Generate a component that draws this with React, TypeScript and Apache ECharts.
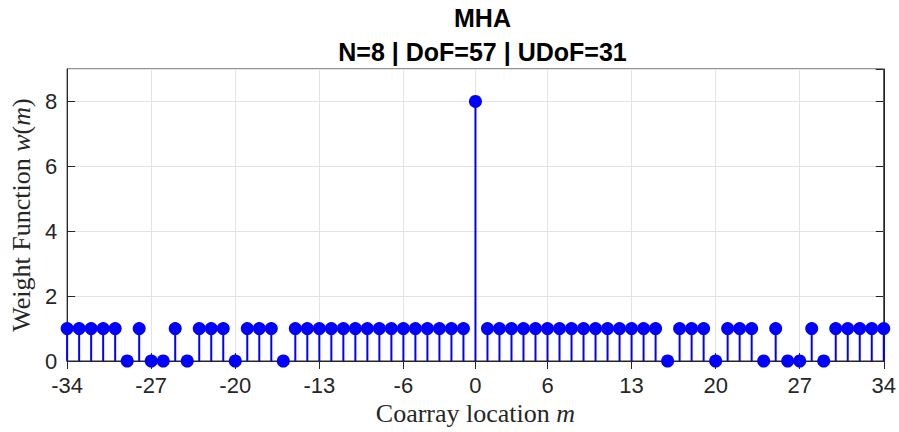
import React, { useEffect, useRef } from "react";
import * as echarts from "echarts";

const titleText = "MHA";
const subtitleText = "N=8 | DoF=57 | UDoF=31";

const lags: number[] = [
  -34, -33, -32, -31, -30, -29, -28, -27, -26, -25, -24, -23, -22, -21, -20, -19, -18, -17, -16,
  -15, -14, -13, -12, -11, -10, -9, -8, -7, -6, -5, -4, -3, -2, -1, 0,
  1, 2, 3, 4, 5, 6, 7, 8, 9, 10, 11, 12, 13, 14, 15,
  16, 17, 18, 19, 20, 21, 22, 23, 24, 25, 26, 27, 28, 29, 30, 31, 32, 33, 34,
];

const weights: number[] = [
  1, 1, 1, 1, 1, 0, 1, 0, 0, 1, 0, 1, 1, 1, 0, 1, 1, 1, 0,
  1, 1, 1, 1, 1, 1, 1, 1, 1, 1, 1, 1, 1, 1, 1, 8,
  1, 1, 1, 1, 1, 1, 1, 1, 1, 1, 1, 1, 1, 1, 1,
  0, 1, 1, 1, 0, 1, 1, 1, 0, 1, 0, 0, 1, 0, 1, 1, 1, 1, 1,
];

const xTicks: number[] = [-34, -27, -20, -13, -6, 0, 6, 13, 20, 27, 34];
const yTicks: number[] = [0, 2, 4, 6, 8];

const AX = "#262626";
const GRIDC = "#e3e3e3";
const STEM = "#0000ff";

export default function App() {
  const ref = useRef<HTMLDivElement>(null);
  useEffect(() => {
    if (!ref.current) return;
    const chart = echarts.init(ref.current, null, { renderer: "svg" });
    const cats = lags.map((m) => String(m));
    const showTick = (_i: number, v: string) => xTicks.includes(Number(v));
    const plotLeft = 67;
    const plotRight = 888;
    const center = (plotLeft + plotRight) / 2;
    const tickFont = { color: AX, fontFamily: "Liberation Sans", fontSize: 22 };
    const serifName = {
      fontFamily: "Liberation Serif",
      fontSize: 26,
      color: AX,
      rich: { i: { fontFamily: "Liberation Serif", fontStyle: "italic", fontSize: 26, color: AX } },
    };
    chart.setOption({
      animation: false,
      backgroundColor: "#ffffff",
      title: [
        {
          text: titleText,
          left: center,
          top: 0,
          textAlign: "center",
          textStyle: { fontFamily: "Liberation Sans", fontWeight: "bold", fontSize: 25, color: "#000" },
        },
        {
          text: subtitleText,
          left: center,
          top: 34,
          textAlign: "center",
          textStyle: { fontFamily: "Liberation Sans", fontWeight: "bold", fontSize: 25, color: "#000" },
        },
      ],
      grid: {
        left: plotLeft,
        right: 899 - plotRight,
        top: 69,
        bottom: 432 - 361,
        show: true,
        borderColor: AX,
        borderWidth: 1,
        backgroundColor: "#fff",
      },
      xAxis: [
        {
          type: "category",
          data: cats,
          boundaryGap: false,
          axisLine: { show: true, lineStyle: { color: AX, width: 1 } },
          axisTick: { show: true, inside: true, length: 8, interval: showTick, lineStyle: { color: AX } },
          axisLabel: { interval: showTick, margin: 13, ...tickFont },
          splitLine: { show: true, interval: showTick, lineStyle: { color: GRIDC, width: 1 } },
          name: "Coarray location {i|m}",
          nameLocation: "middle",
          nameGap: 34,
          nameTextStyle: serifName,
        },
        {
          type: "category",
          data: cats,
          boundaryGap: false,
          position: "top",
          axisLine: { show: true, lineStyle: { color: AX, width: 1 } },
          axisTick: { show: true, inside: true, length: 8, interval: showTick, lineStyle: { color: AX } },
          axisLabel: { show: false },
          splitLine: { show: false },
        },
      ],
      yAxis: [
        {
          type: "value",
          min: 0,
          max: 9,
          interval: 2,
          axisLine: { show: true, lineStyle: { color: AX, width: 1 } },
          axisTick: { show: true, inside: true, length: 8, lineStyle: { color: AX } },
          axisLabel: {
            margin: 10,
            showMaxLabel: false,
            formatter: (v: number) => (yTicks.includes(v) ? String(v) : ""),
            ...tickFont,
          },
          splitLine: { show: true, lineStyle: { color: GRIDC, width: 1 } },
          name: "Weight Function {i|w}({i|m})",
          nameLocation: "middle",
          nameRotate: 90,
          nameGap: 29,
          nameTextStyle: serifName,
        },
        {
          type: "value",
          min: 0,
          max: 9,
          interval: 2,
          position: "right",
          axisLine: { show: true, lineStyle: { color: AX, width: 1 } },
          axisTick: { show: true, inside: true, length: 8, lineStyle: { color: AX } },
          axisLabel: { show: false },
          splitLine: { show: false },
        },
      ],
      series: [
        {
          type: "custom",
          xAxisIndex: 0,
          yAxisIndex: 0,
          clip: false,
          z: 10,
          data: weights.map((w, i) => [i, w]),
          renderItem: (_params: any, api: any) => {
            const x = api.value(0);
            const y = api.value(1);
            const p0 = api.coord([x, 0]);
            const p1 = api.coord([x, y]);
            return {
              type: "group",
              children: [
                {
                  type: "line",
                  shape: { x1: p0[0], y1: p0[1], x2: p1[0], y2: p1[1] },
                  style: { stroke: STEM, lineWidth: 2 },
                },
                {
                  type: "circle",
                  shape: { cx: p1[0], cy: p1[1], r: 6.5 },
                  style: { fill: STEM, stroke: STEM, lineWidth: 0 },
                },
              ],
            };
          },
        },
      ],
    });
    return () => chart.dispose();
  }, []);
  return <div ref={ref} style={{ width: 899, height: 432, position: "absolute", left: 0, top: 0 }} />;
}
